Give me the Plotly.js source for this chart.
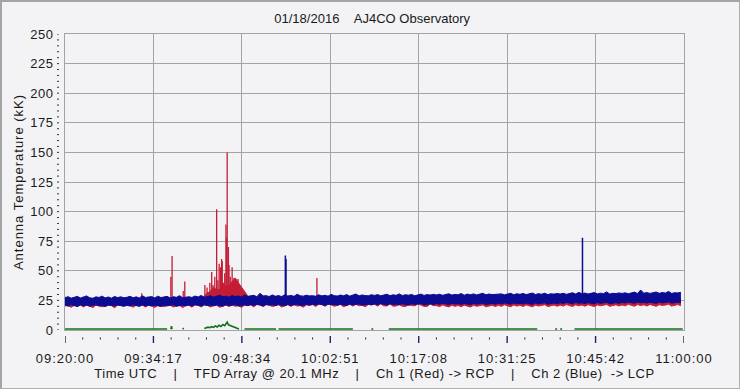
<!DOCTYPE html>
<html><head><meta charset="utf-8">
<script src="https://cdn.plot.ly/plotly-3.0.1.min.js"></script>
<style>
body{margin:0;padding:0;background:#f3f3f5;}
#wrap{position:relative;width:740px;height:389px;}
#frame{position:absolute;left:0;top:0;width:740px;height:389px;box-sizing:border-box;border-top:2px solid #a4a4a4;border-left:2px solid #a4a4a4;border-right:1px solid #b0b0b0;border-bottom:1px solid #b0b0b0;pointer-events:none;}
.xtick text{letter-spacing:1px;}
.ytick text{letter-spacing:0.5px;}
.xtitle{letter-spacing:0.5px;}
.ytitle{letter-spacing:1px;}
</style>
</head><body>
<div id="wrap"><div id="chart"></div><div id="frame"></div></div>
<script>
// ---- data (time in minutes after 09:20:00 UTC, temperatures in kK) ----
const chartTitle = "01/18/2016\u00a0\u00a0\u00a0\u00a0AJ4CO Observatory";
const yTitle = "Antenna Temperature (kK)";
const xTitle = "Time UTC\u00a0\u00a0\u00a0\u00a0|\u00a0\u00a0\u00a0\u00a0TFD Array @ 20.1 MHz\u00a0\u00a0\u00a0\u00a0|\u00a0\u00a0\u00a0\u00a0Ch 1 (Red) -> RCP\u00a0\u00a0\u00a0\u00a0|\u00a0\u00a0\u00a0\u00a0Ch 2 (Blue)\u00a0\u00a0-> LCP";
const xTickLabels = ["09:20:00","09:34:17","09:48:34","10:02:51","10:17:08","10:31:25","10:45:42","11:00:00"];
const spanMinutes = 100;
const sampleStepMin = 0.5;

// Ch 2 (blue, LCP): upper and lower edge of the noise band
const blueUpper = [
27.4,28.1,26.9,27.8,28.4,27.0,27.6,28.8,27.2,26.8,28.0,27.5,28.6,27.1,27.9,26.9,28.3,27.4,28.0,27.3,
27.6,28.5,27.2,28.0,27.0,28.9,27.5,27.9,28.2,27.1,28.6,27.4,27.8,28.4,27.0,28.1,27.6,29.0,27.3,28.0,
28.1,27.5,28.7,27.9,29.2,27.6,28.3,28.9,27.8,28.5,29.4,28.0,28.6,27.7,29.1,28.2,28.8,27.9,29.5,28.4,
28.6,29.3,28.1,31.0,28.8,29.0,28.3,29.6,28.5,29.1,28.2,29.8,28.7,29.2,28.4,30.2,28.9,28.6,29.4,28.8,
29.0,28.5,29.7,28.8,29.3,28.6,30.1,29.0,28.7,29.5,28.9,29.9,28.6,29.2,30.4,28.8,29.6,29.1,28.9,29.8,
29.2,29.9,28.9,29.5,30.2,29.0,29.7,29.3,30.5,29.1,29.8,29.4,30.0,28.9,29.6,30.3,29.2,29.9,29.5,30.1,
29.6,30.2,29.3,29.9,30.6,29.5,30.0,29.7,30.8,29.4,30.3,29.8,30.5,29.6,30.1,31.0,29.7,30.4,29.9,30.2,
29.9,30.5,29.7,30.3,31.0,29.8,30.6,30.1,30.9,29.9,30.4,31.2,30.0,30.7,30.2,31.1,29.9,30.6,30.3,30.8,
30.4,31.0,30.1,30.7,31.5,30.3,31.8,30.6,31.2,30.4,30.9,31.6,30.5,31.1,30.7,32.2,30.4,31.0,30.8,31.3,
30.9,31.4,30.6,31.2,32.0,30.8,33.8,31.1,31.6,30.9,31.3,32.1,31.0,31.7,31.2,32.6,30.9,31.5,31.3,31.8
];
const blueLower = [
21.0,20.2,21.4,20.6,19.8,21.2,20.5,21.1,20.0,20.9,21.3,20.4,20.8,19.9,21.1,20.6,20.3,21.2,20.7,20.1,
20.9,20.3,21.3,20.7,20.0,21.2,20.5,20.9,20.2,21.0,20.6,19.9,21.1,20.4,20.8,21.3,20.1,20.7,21.0,20.4,
21.1,20.5,21.4,20.8,20.2,21.3,20.7,21.0,20.4,21.2,20.8,20.1,21.3,20.6,21.0,21.5,20.3,20.9,21.2,20.6,
21.4,20.8,21.7,21.1,20.5,21.6,21.0,21.3,20.7,21.5,21.1,20.4,21.6,20.9,21.3,21.8,20.6,21.2,21.5,20.9,
21.7,21.1,22.0,21.4,20.8,21.9,21.3,21.6,21.0,21.8,21.4,20.7,21.9,21.2,21.6,22.1,20.9,21.5,21.8,21.2,
22.0,21.4,22.3,21.7,21.1,22.2,21.6,21.9,21.3,22.1,21.7,21.0,22.2,21.5,21.9,22.4,21.2,21.8,22.1,21.5,
22.3,21.7,22.6,22.0,21.4,22.5,21.9,22.2,21.6,22.4,22.0,21.3,22.5,21.8,22.2,22.7,21.5,22.1,22.4,21.8,
22.6,22.0,22.9,22.3,21.7,22.8,22.2,22.5,21.9,22.7,22.3,21.6,22.8,22.1,22.5,23.0,21.8,22.4,22.7,22.1,
23.0,22.4,23.3,22.7,22.1,23.2,22.6,22.9,22.3,23.1,22.7,22.0,23.2,22.5,22.9,23.4,22.2,22.8,23.1,22.5,
23.4,22.8,23.7,23.1,22.5,23.6,23.0,23.3,22.7,23.5,23.1,22.4,23.6,22.9,23.3,23.8,22.6,23.2,23.5,22.9
];
// Ch 1 (red, RCP): upper and lower edge of the noise band
const redUpper = [
26.0,25.6,26.3,25.8,26.1,25.5,26.4,25.9,26.2,25.7,26.0,26.3,25.6,26.1,25.8,26.4,25.9,26.0,25.7,26.2,
26.1,25.7,26.4,25.9,26.2,25.6,26.5,26.0,26.3,25.8,26.1,26.4,25.7,26.2,25.9,26.5,26.0,26.1,25.8,26.3,
26.2,25.8,26.5,26.0,26.3,29.0,31.0,33.0,36.0,34.0,34.0,39.0,37.0,37.5,41.0,44.0,40.0,36.0,33.0,29.0,
26.3,25.9,26.6,26.1,26.4,25.8,26.7,26.2,26.5,26.0,26.3,26.6,25.9,26.4,26.1,26.7,26.2,26.3,26.0,26.5,
26.4,26.0,26.7,26.2,26.5,25.9,26.8,26.3,26.6,26.1,26.4,26.7,26.0,26.5,26.2,26.8,26.3,26.4,26.1,26.6,
26.5,26.1,26.8,26.3,26.6,26.0,26.9,26.4,26.7,26.2,26.5,26.8,26.1,26.6,26.3,26.9,26.4,26.5,26.2,26.7,
26.6,26.2,26.9,26.4,26.7,26.1,27.0,26.5,26.8,26.3,26.6,26.9,26.2,26.7,26.4,27.0,26.5,26.6,26.3,26.8,
26.7,26.3,27.0,26.5,26.8,26.2,27.1,26.6,26.9,26.4,26.7,27.0,26.3,26.8,26.5,27.1,26.6,26.7,26.4,26.9,
26.8,26.4,27.1,26.6,26.9,26.3,27.2,26.7,27.0,26.5,26.8,27.1,26.4,26.9,26.6,27.2,26.7,26.8,26.5,27.0,
26.9,26.5,27.2,26.7,27.0,26.4,27.3,26.8,27.1,26.6,26.9,27.2,26.5,27.0,26.7,27.3,26.8,26.9,26.6,27.1
];
const redLower = [
20.6,20.4,19.2,20.8,20.0,21.0,19.5,21.0,20.2,18.9,21.0,20.6,19.6,20.1,20.9,20.7,18.8,21.0,20.8,20.2,
20.7,20.5,19.3,20.9,20.2,21.0,19.4,21.0,20.4,19.0,20.8,20.1,19.7,20.6,20.9,19.5,20.3,20.9,18.9,20.6,
20.9,19.3,21.2,20.9,19.5,21.1,20.8,19.4,20.6,21.0,19.2,20.3,21.1,19.8,21.1,20.0,20.5,19.1,21.0,20.7,
21.2,19.6,21.5,21.2,19.7,21.4,21.1,19.8,20.8,21.3,19.4,20.6,21.4,19.9,21.4,20.2,20.7,19.3,21.3,21.0,
21.5,19.9,21.8,21.5,20.0,21.7,21.4,20.0,21.1,21.6,19.7,20.9,21.7,20.2,21.7,20.5,21.0,19.6,21.6,21.3,
21.8,20.2,22.1,20.4,20.3,22.0,20.1,20.3,21.4,20.0,19.9,21.1,20.5,20.4,22.0,20.8,20.0,19.9,21.9,20.6,
20.6,19.8,21.1,20.2,19.5,20.9,20.0,20.7,19.7,21.0,20.3,19.4,20.8,20.1,20.5,21.2,19.6,20.4,20.9,19.9,
20.8,20.0,21.3,20.4,19.7,21.1,20.2,20.9,19.9,21.2,20.5,19.6,21.0,20.3,20.7,21.4,19.8,20.6,21.1,20.1,
21.0,20.2,21.5,20.6,19.9,21.3,20.4,21.1,20.1,21.4,20.7,19.8,21.2,20.5,20.9,21.6,20.0,20.8,21.3,20.3,
21.2,20.4,21.7,20.8,20.1,21.5,20.6,21.3,20.3,21.6,20.9,20.0,21.4,20.7,21.1,21.8,20.2,21.0,21.5,20.5
];
// impulsive bursts (time in minutes, peak kK)
const redBurstTimes = [12.4,17.1,17.3,19.1,19.35,22.6,22.95,23.0,23.4,23.7,23.9,24.0,24.2,24.5,24.7,24.9,25.1,25.3,25.4,25.6,25.8,26.0,26.1,26.2,26.4,26.5,26.7,26.9,27.0,27.3,27.6,27.95,40.7];
const redBurstPeaks = [31,45,62.5,33,41,38,36,32,40,49,38,35,45,102,42,56,53,60,58,40,48,89,78,150,70,55,45,38,53,44,35,43,44];
const redBurstBase = 25;
const blueBurstTimes = [35.6,35.7,83.6];
const blueBurstPeaks = [63,60,78];
const blueBurstBase = 28;
// third channel (green) — gaps are null
const greenTimes = [0,16.5,null,17.1,17.2,17.3,null,19.0,19.2,null,22.5,22.8,23.1,23.4,23.7,24.0,24.3,24.6,24.9,25.2,25.5,25.8,26.0,26.2,26.4,26.7,27.0,27.3,27.6,27.9,28.1,null,29.0,34.1,null,34.5,46.5,null,49.5,49.8,null,52.3,76.3,null,79.2,79.5,null,80.0,80.3,null,82.3,99.8];
const greenValues = [0.8,0.8,null,0.8,3.2,0.8,null,0.8,1.6,null,1.2,1.8,2.4,1.9,2.8,2.2,3.4,2.6,4.0,3.0,4.6,3.6,5.2,6.6,4.4,3.8,3.0,2.4,1.8,1.4,0.9,null,0.8,0.8,null,0.8,0.8,null,0.8,0.8,null,0.8,0.8,null,0.8,0.8,null,0.8,0.8,null,0.8,0.8];

// ---- build traces ----
const sampleTimes = blueUpper.map((_, i) => i * sampleStepMin);
function burstTrace(times, peaks, base, color, w) {
  const x = [], y = [];
  times.forEach((t, i) => { x.push(t, t, t, null); y.push(base, peaks[i], base, null); });
  return {x, y, type:'scatter', mode:'lines', line:{color, width:w}, hoverinfo:'skip', showlegend:false};
}
const RED = '#c41e34', BLUE = '#0c0c92', GREEN = '#16701a';
const traces = [
  {x: sampleTimes, y: redLower, type:'scatter', mode:'lines', line:{color:RED, width:1}, showlegend:false},
  {x: sampleTimes, y: redUpper, type:'scatter', mode:'lines', line:{color:RED, width:1}, fill:'tonexty', fillcolor:RED, showlegend:false},
  burstTrace(redBurstTimes, redBurstPeaks, redBurstBase, RED, 1.3),
  {x: sampleTimes, y: blueLower, type:'scatter', mode:'lines', line:{color:BLUE, width:1}, showlegend:false},
  {x: sampleTimes, y: blueUpper, type:'scatter', mode:'lines', line:{color:BLUE, width:1}, fill:'tonexty', fillcolor:BLUE, showlegend:false},
  burstTrace(blueBurstTimes, blueBurstPeaks, blueBurstBase, BLUE, 1.5),
  {x: greenTimes, y: greenValues, type:'scatter', mode:'lines', line:{color:GREEN, width:1.6}, connectgaps:false, showlegend:false}
];

// ---- axis decorations (ticks offset from the frame) ----
const nMajor = xTickLabels.length - 1;
const majorStep = spanMinutes / nMajor;
const xTickVals = xTickLabels.map((_, i) => i * majorStep);
const shapes = [];
for (let i = 0; i <= nMajor; i++) {
  shapes.push({type:'line', xref:'x', yref:'paper', ysizemode:'pixel', yanchor:0,
    x0:i*majorStep, x1:i*majorStep, y0:-6, y1:-13, line:{color:'#1c2a5a', width:1.4}});
  if (i < nMajor) for (let k = 1; k < 5; k++) {
    const xv = i*majorStep + k*majorStep/5;
    shapes.push({type:'line', xref:'x', yref:'paper', ysizemode:'pixel', yanchor:0,
      x0:xv, x1:xv, y0:-7.5, y1:-9.5, line:{color:'#222', width:1}});
  }
}
for (let v = 0; v <= 250; v += 5) {
  shapes.push({type:'line', xref:'paper', yref:'y', xsizemode:'pixel', xanchor:0,
    x0:-8, x1:-6, y0:v, y1:v, line:{color:'#333', width:1}});
}

const FONT = 'Liberation Sans, Arial, sans-serif';
const layout = {
  width:740, height:389,
  margin:{l:65, r:56, t:34, b:59, pad:0},
  paper_bgcolor:'#f3f3f5', plot_bgcolor:'#f3f3f5',
  font:{family:FONT, size:13, color:'#1a1a1a'},
  title:{text:chartTitle, x:0.503, xanchor:'center', y:0.952, yanchor:'middle', yref:'container', font:{family:FONT, size:13, color:'#1a1a1a'}},
  xaxis:{range:[0, spanMinutes], tickvals:xTickVals, ticktext:xTickLabels, ticks:'outside', ticklen:16, tickcolor:'rgba(0,0,0,0)',
    showgrid:true, gridcolor:'#a3a3a3', gridwidth:1, zeroline:false, showline:true, mirror:true, linecolor:'#a3a3a3', linewidth:1,
    tickfont:{family:FONT, size:13, color:'#1a1a1a'},
    title:{text:xTitle, standoff:4, font:{family:FONT, size:13, color:'#1a1a1a'}}, fixedrange:true, automargin:false},
  yaxis:{range:[0,250], tickvals:[0,25,50,75,100,125,150,175,200,225,250], ticks:'outside', ticklen:8, tickcolor:'rgba(0,0,0,0)',
    showgrid:true, gridcolor:'#a3a3a3', gridwidth:1, zeroline:false, showline:true, mirror:true, linecolor:'#a3a3a3', linewidth:1,
    tickfont:{family:FONT, size:13, color:'#1a1a1a'},
    title:{text:yTitle, standoff:3, font:{family:FONT, size:13, color:'#1a1a1a'}}, fixedrange:true, automargin:false},
  shapes: shapes,
  showlegend:false
};
Plotly.newPlot('chart', traces, layout, {displayModeBar:false, staticPlot:true});
</script>
</body></html>
